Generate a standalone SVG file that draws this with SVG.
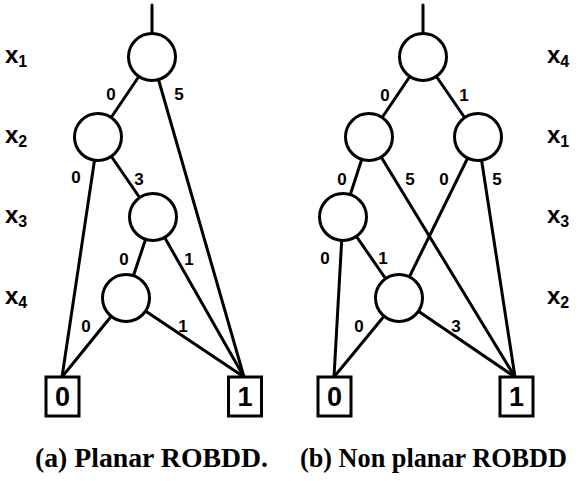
<svg xmlns="http://www.w3.org/2000/svg" width="582" height="481" viewBox="0 0 582 481">
<style>
.e{stroke:#000;stroke-width:3;fill:none;stroke-linecap:round}
.n{fill:#fff;stroke:#000;stroke-width:3}
.t{fill:#fff;stroke:#000;stroke-width:3}
.lb{font-family:"Liberation Sans",Arial,sans-serif;font-weight:bold;font-size:17px;text-anchor:middle;fill:#000}
.tv{font-family:"Liberation Sans",Arial,sans-serif;font-weight:bold;font-size:27px;text-anchor:middle;fill:#000}
.v{font-family:"Liberation Sans",Arial,sans-serif;font-weight:bold;font-size:24px;fill:#000}
.v tspan{font-size:16px}
.cap{font-family:"Liberation Serif","Times New Roman",serif;font-weight:bold;font-size:27px;fill:#000}
</style>
<rect width="582" height="481" fill="#fff"/>
<g id="connectors">
<line class="e" x1="152" y1="5" x2="152" y2="57"/>
<line class="e" x1="152" y1="57" x2="98" y2="137"/>
<line class="e" x1="152" y1="57" x2="244" y2="377"/>
<line class="e" x1="98" y1="137" x2="62" y2="377"/>
<line class="e" x1="98" y1="137" x2="153" y2="217"/>
<line class="e" x1="153" y1="217" x2="126" y2="298"/>
<line class="e" x1="153" y1="217" x2="244" y2="377"/>
<line class="e" x1="126" y1="298" x2="62" y2="377"/>
<line class="e" x1="126" y1="298" x2="244" y2="377"/>
<line class="e" x1="423" y1="5" x2="423" y2="57"/>
<line class="e" x1="423" y1="57" x2="369" y2="137"/>
<line class="e" x1="423" y1="57" x2="478" y2="137"/>
<line class="e" x1="369" y1="137" x2="343" y2="217"/>
<line class="e" x1="369" y1="137" x2="515" y2="377"/>
<line class="e" x1="478" y1="137" x2="399" y2="298"/>
<line class="e" x1="478" y1="137" x2="515" y2="377"/>
<line class="e" x1="343" y1="217" x2="334" y2="377"/>
<line class="e" x1="343" y1="217" x2="399" y2="298"/>
<line class="e" x1="399" y1="298" x2="334" y2="377"/>
<line class="e" x1="399" y1="298" x2="515" y2="377"/>
</g>
<g id="edge-labels">
<text class="lb" x="111" y="100">0</text>
<text class="lb" x="179" y="100">5</text>
<text class="lb" x="76" y="183">0</text>
<text class="lb" x="139" y="185">3</text>
<text class="lb" x="124" y="265">0</text>
<text class="lb" x="189" y="265">1</text>
<text class="lb" x="86" y="332">0</text>
<text class="lb" x="183" y="332">1</text>
<text class="lb" x="385" y="101">0</text>
<text class="lb" x="464" y="101">1</text>
<text class="lb" x="342" y="185">0</text>
<text class="lb" x="410" y="185">5</text>
<text class="lb" x="444" y="185">0</text>
<text class="lb" x="497" y="185">5</text>
<text class="lb" x="325" y="264">0</text>
<text class="lb" x="383" y="264">1</text>
<text class="lb" x="359" y="332">0</text>
<text class="lb" x="456" y="332">3</text>
</g>
<g id="a-x1"><circle class="n" cx="152" cy="57" r="23.5"/></g>
<g id="a-x2"><circle class="n" cx="98" cy="137" r="23.5"/></g>
<g id="a-x3"><circle class="n" cx="153" cy="217" r="23.5"/></g>
<g id="a-x4"><circle class="n" cx="126" cy="298" r="23.5"/></g>
<g id="a-t0"><rect class="t" x="46" y="377" width="33" height="39"/><text class="tv" x="62.5" y="406">0</text></g>
<g id="a-t1"><rect class="t" x="228.5" y="377" width="33" height="39"/><text class="tv" x="245" y="406">1</text></g>
<g id="b-x4"><circle class="n" cx="423" cy="57" r="23.5"/></g>
<g id="b-x1l"><circle class="n" cx="369" cy="137" r="23.5"/></g>
<g id="b-x1r"><circle class="n" cx="478" cy="137" r="23.5"/></g>
<g id="b-x3"><circle class="n" cx="343" cy="217" r="23.5"/></g>
<g id="b-x2"><circle class="n" cx="399" cy="298" r="23.5"/></g>
<g id="b-t0"><rect class="t" x="318" y="377" width="33" height="39"/><text class="tv" x="334.5" y="406">0</text></g>
<g id="b-t1"><rect class="t" x="500" y="377" width="33" height="39"/><text class="tv" x="516.5" y="406">1</text></g>
<g id="var-labels">
<text class="v" x="5" y="63">x<tspan dy="4">1</tspan></text>
<text class="v" x="5" y="143">x<tspan dy="4">2</tspan></text>
<text class="v" x="5" y="223">x<tspan dy="4">3</tspan></text>
<text class="v" x="5" y="304">x<tspan dy="4">4</tspan></text>
<text class="v" x="547" y="63">x<tspan dy="4">4</tspan></text>
<text class="v" x="547" y="143">x<tspan dy="4">1</tspan></text>
<text class="v" x="547" y="223">x<tspan dy="4">3</tspan></text>
<text class="v" x="547" y="304">x<tspan dy="4">2</tspan></text>
</g>
<g id="captions">
<text class="cap" x="35" y="467" textLength="233" lengthAdjust="spacingAndGlyphs">(a) Planar ROBDD.</text>
<text class="cap" x="300" y="467" font-size="26" textLength="267" lengthAdjust="spacingAndGlyphs">(b) Non planar ROBDD</text>
</g>
</svg>
